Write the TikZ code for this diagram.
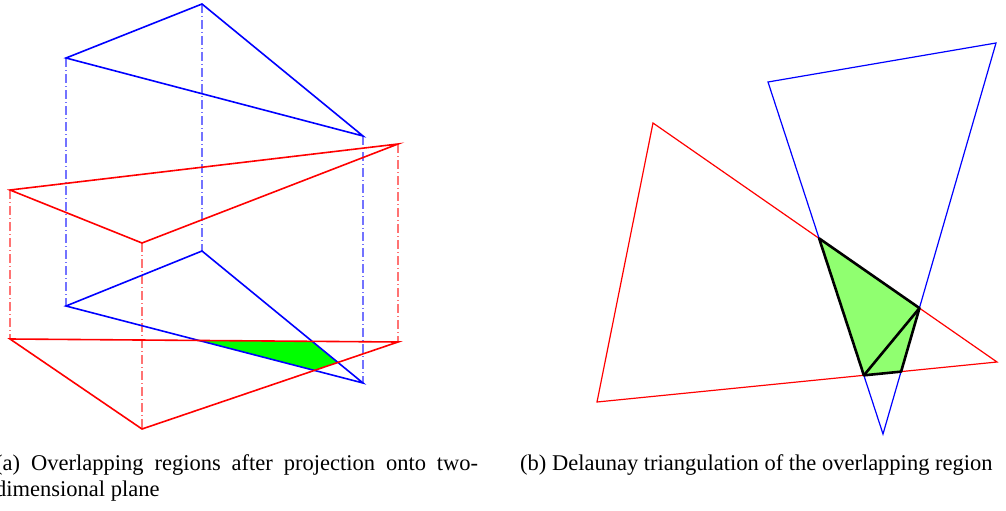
\documentclass[tikz,border=0pt]{standalone}
\usepackage{fontspec}
\setmainfont{Liberation Serif}
\begin{document}
\begin{tikzpicture}[x=1pt,y=-1pt,
  edgeb/.style={draw=blue,line width=1.6pt,line join=miter},
  edger/.style={draw=red,line width=1.6pt,line join=miter},
  thinb/.style={draw=blue,line width=1.2pt},
  thinr/.style={draw=red,line width=1.2pt},
  projb/.style={draw=blue!55,line width=1.2pt,dash pattern=on 9pt off 3pt on 1pt off 3pt},
  projr/.style={draw=red!55,line width=1.2pt,dash pattern=on 9pt off 3pt on 1pt off 3pt},
  tri/.style={draw=black,line width=2.6pt,line join=round},
  capt/.style={inner sep=0pt,anchor=north west,align=justify,font=\fontsize{22.5}{26.5}\selectfont}]
\useasboundingbox (0,0) rectangle (1006,511);
% left: upper triangles
\coordinate (bt1) at (66,58); \coordinate (bt2) at (202,4); \coordinate (bt3) at (363,136);
\coordinate (rt1) at (10,190); \coordinate (rt2) at (398,144); \coordinate (rt3) at (142,243);
% left: projected triangles
\coordinate (bp1) at (66,306); \coordinate (bp2) at (202,251); \coordinate (bp3) at (363,383);
\coordinate (rp1) at (10,339); \coordinate (rp2) at (398,342); \coordinate (rp3) at (142,429);
% overlap region
\coordinate (g1) at (intersection of rp1--rp2 and bp1--bp3);
\coordinate (g2) at (intersection of rp1--rp2 and bp2--bp3);
\coordinate (g3) at (intersection of rp3--rp2 and bp2--bp3);
\coordinate (g4) at (intersection of rp3--rp2 and bp1--bp3);
\fill[green] (g1) -- (g2) -- (g3) -- (g4) -- cycle;
% projection lines
\draw[projb] (bt1) -- (bp1); \draw[projb] (bt2) -- (bp2); \draw[projb] (bt3) -- (bp3);
\draw[projr] (rt1) -- (rp1); \draw[projr] (rt2) -- (rp2); \draw[projr] (rt3) -- (rp3);
\draw[edgeb] (bt1) -- (bt2) -- (bt3) -- cycle;
\draw[edger] (rt1) -- (rt2) -- (rt3) -- cycle;
\draw[edgeb] (bp1) -- (bp2) -- (bp3) -- cycle;
\draw[edger] (rp1) -- (rp2) -- (rp3) -- cycle;
% right
\coordinate (R1) at (653,123); \coordinate (R2) at (997,362); \coordinate (R3) at (597,402);
\coordinate (B1) at (768,82); \coordinate (B2) at (996,43); \coordinate (B3) at (883,434);
\coordinate (q1) at (intersection of R1--R2 and B1--B3);
\coordinate (q2) at (intersection of R1--R2 and B2--B3);
\coordinate (q3) at (intersection of R3--R2 and B2--B3);
\coordinate (q4) at (intersection of R3--R2 and B1--B3);
\fill[fill={rgb,255:red,144;green,255;blue,112}] (q1) -- (q2) -- (q3) -- (q4) -- cycle;
\draw[thinr] (R1) -- (R2) -- (R3) -- cycle;
\draw[thinb] (B1) -- (B2) -- (B3) -- cycle;
\draw[tri] (q1) -- (q2) -- (q3) -- (q4) -- cycle;
\draw[tri] (q2) -- (q4);
% captions
\node[capt,text width=483pt] (capa) at (-5,454) {(a) Overlapping regions after projection onto two-dimensional plane};
\node[capt,anchor=north west] (capb) at (520,454) {(b) Delaunay triangulation of the overlapping region};
\end{tikzpicture}
\end{document}
